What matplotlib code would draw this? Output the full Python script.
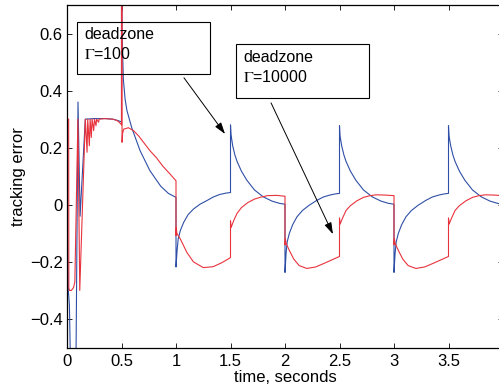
import matplotlib
matplotlib.use("Agg")
import matplotlib.pyplot as plt
from matplotlib.patches import Rectangle
from matplotlib.ticker import FuncFormatter

plt.rcParams['font.family'] = ['Liberation Sans', 'DejaVu Sans']
plt.rcParams['mathtext.fontset'] = 'stix'

# blue trace (repeated jumps give the vertical edges)
blueTime = [0.0, 0.012, 0.022, 0.030, 0.050, 0.070, 0.083, 0.101, 0.120, 0.168,
            0.25, 0.35, 0.42, 0.47, 0.50, 0.50, 0.505, 0.517, 0.533, 0.55, 0.594,
            0.67, 0.76, 0.86, 0.93, 1.0,
            1.0, 1.01, 1.02, 1.04, 1.07, 1.11, 1.16, 1.22, 1.28, 1.34, 1.40, 1.46, 1.50,
            1.50, 1.505, 1.52, 1.54, 1.56, 1.60, 1.65, 1.72, 1.80, 1.88, 1.95, 2.0,
            2.0, 2.01, 2.02, 2.04, 2.07, 2.11, 2.16, 2.22, 2.29, 2.35, 2.41, 2.46, 2.50,
            2.50, 2.505, 2.52, 2.54, 2.56, 2.60, 2.65, 2.72, 2.80, 2.88, 2.95, 3.0,
            3.0, 3.01, 3.02, 3.04, 3.07, 3.11, 3.16, 3.22, 3.29, 3.35, 3.41, 3.46, 3.50,
            3.50, 3.505, 3.52, 3.54, 3.56, 3.60, 3.65, 3.72, 3.80, 3.88, 3.95, 4.0]
blueError = [0.0, -0.30, -0.35, -0.52, -0.80, -0.80, -0.52, 0.36, -0.04, 0.30,
             0.302, 0.302, 0.30, 0.295, 0.29, 0.95, 0.60, 0.44, 0.37, 0.33, 0.27,
             0.19, 0.12, 0.065, 0.04, 0.026,
             -0.218, -0.16, -0.12, -0.09, -0.062, -0.035, -0.015, 0.002, 0.014, 0.027, 0.036, 0.041, 0.043,
             0.28, 0.245, 0.207, 0.175, 0.152, 0.118, 0.086, 0.052, 0.028, 0.013, 0.005, 0.002,
             -0.237, -0.17, -0.13, -0.10, -0.07, -0.042, -0.02, -0.002, 0.015, 0.027, 0.034, 0.038, 0.04,
             0.277, 0.24, 0.207, 0.175, 0.152, 0.118, 0.086, 0.052, 0.028, 0.013, 0.005, 0.002,
             -0.237, -0.17, -0.13, -0.10, -0.07, -0.042, -0.02, -0.002, 0.015, 0.027, 0.034, 0.038, 0.04,
             0.277, 0.24, 0.207, 0.175, 0.152, 0.118, 0.086, 0.052, 0.028, 0.013, 0.005, 0.002]

# red trace
redTime = [0.0, 0.015, 0.017, 0.022, 0.04, 0.06, 0.072, 0.10, 0.117, 0.168,
           0.184, 0.19, 0.205, 0.212, 0.223, 0.23, 0.245, 0.252, 0.266, 0.272, 0.29, 0.295,
           0.35, 0.42, 0.46, 0.49, 0.50, 0.50, 0.505, 0.505, 0.51, 0.52, 0.563, 0.61, 0.66,
           0.70, 0.76, 0.82, 0.88, 0.94, 1.0,
           1.0, 1.003, 1.008, 1.04, 1.10, 1.16, 1.25, 1.34, 1.42, 1.50,
           1.50, 1.505, 1.53, 1.56, 1.60, 1.66, 1.72, 1.78, 1.84, 1.92, 2.0,
           2.0, 2.004, 2.01, 2.04, 2.08, 2.13, 2.20, 2.28, 2.36, 2.43, 2.50,
           2.50, 2.505, 2.53, 2.56, 2.60, 2.66, 2.72, 2.78, 2.84, 2.92, 3.0,
           3.0, 3.004, 3.01, 3.04, 3.08, 3.13, 3.20, 3.28, 3.36, 3.43, 3.50,
           3.50, 3.505, 3.53, 3.56, 3.60, 3.66, 3.72, 3.78, 3.84, 3.92, 4.0]
redError = [0.30, 0.30, -0.29, -0.30, -0.30, -0.29, -0.27, 0.30, -0.30, 0.30,
            0.184, 0.30, 0.207, 0.30, 0.236, 0.30, 0.26, 0.30, 0.277, 0.30, 0.289, 0.30,
            0.302, 0.30, 0.295, 0.285, 0.28, 0.95, 0.95, 0.219, 0.25, 0.265, 0.27, 0.26, 0.24,
            0.22, 0.19, 0.165, 0.135, 0.11, 0.084,
            -0.108, -0.08, -0.10, -0.12, -0.167, -0.20, -0.22, -0.217, -0.203, -0.185,
            -0.056, -0.08, -0.055, -0.03, -0.01, 0.008, 0.02, 0.027, 0.032, 0.033, 0.03,
            -0.14, -0.12, -0.135, -0.16, -0.19, -0.213, -0.223, -0.218, -0.205, -0.193, -0.181,
            -0.046, -0.068, -0.045, -0.02, -0.003, 0.014, 0.026, 0.032, 0.035, 0.034, 0.032,
            -0.14, -0.12, -0.135, -0.16, -0.19, -0.213, -0.223, -0.218, -0.205, -0.193, -0.181,
            -0.046, -0.068, -0.045, -0.02, -0.003, 0.014, 0.026, 0.032, 0.035, 0.034, 0.032]

xTicks = [0, 0.5, 1, 1.5, 2, 2.5, 3, 3.5, 4]
yTicks = [-0.4, -0.2, 0, 0.2, 0.4, 0.6]
boxLabels = ['deadzone\n$\\Gamma$=100', 'deadzone\n$\\Gamma$=10000']


def tickText(v, pos):
    return ('%g' % v).replace('-', '\u2212')


W, H = 499, 391
fig = plt.figure(figsize=(W / 100, H / 100), dpi=100)
# right edge of the axes sits just outside the picture, like the reference crop
ax = fig.add_axes([67 / W, 43.5 / H, 436 / W, 342.5 / H])

ax.plot(blueTime, blueError, color='#2f4fa6', lw=0.8)
ax.plot(redTime, redError, color='#e8333d', lw=0.8)

ax.set_xlim(0, 4)
ax.set_ylim(-0.5, 0.7)
ax.set_xticks(xTicks)
ax.set_yticks(yTicks)
ax.xaxis.set_major_formatter(FuncFormatter(tickText))
ax.yaxis.set_major_formatter(FuncFormatter(tickText))
ax.tick_params(direction='in', top=True, right=True, length=3.6, width=0.6,
               labelsize=12)
ax.tick_params(axis='y', pad=3)
ax.tick_params(axis='x', pad=4.5)
for sp in ax.spines.values():
    sp.set_linewidth(0.9)

ax.set_xlabel('time, seconds', fontsize=12, labelpad=1)
ax.set_ylabel('tracking error', fontsize=12, labelpad=3)

# text boxes (pixel positions from the top-left corner of the picture)
boxes = [(76.7, 21.7, 133.3, 52.3), (235.7, 44.3, 133.6, 53.4)]
for (bx, by, bw, bh), label in zip(boxes, boxLabels):
    fig.add_artist(Rectangle((bx / W, (H - by - bh) / H), bw / W, bh / H,
                             transform=fig.transFigure, fill=False,
                             edgecolor='k', lw=0.8))
    fig.text((bx + 7.5) / W, (H - by - 5.5) / H, label, fontsize=11.5,
             va='top', ha='left', linespacing=1.3)

arrowStyle = dict(arrowstyle='-|>,head_length=0.7,head_width=0.22', color='k',
                  lw=0.7, shrinkA=0, shrinkB=0)
ax.annotate('', xy=(1.45, 0.248), xytext=(1.073, 0.445), arrowprops=arrowStyle)
ax.annotate('', xy=(2.44, -0.103), xytext=(1.872, 0.357), arrowprops=arrowStyle)

fig.savefig('out.png', dpi=100)
